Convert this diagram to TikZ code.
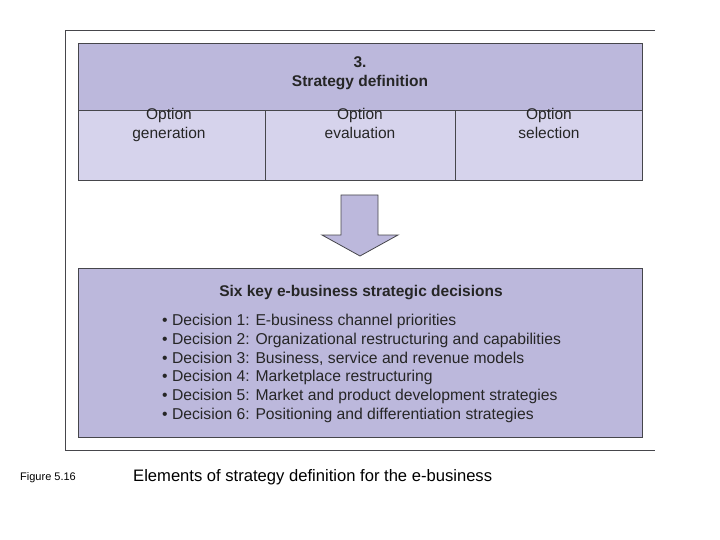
\documentclass[tikz,border=0pt]{standalone}
\usepackage{fontspec}
\setmainfont{Liberation Sans}
\definecolor{dk}{RGB}{188,184,220}
\definecolor{lt}{RGB}{214,211,236}
\definecolor{ln}{RGB}{70,70,75}
\begin{document}
\begin{tikzpicture}[x=1pt,y=-1pt,
  box/.style={draw=ln,line width=0.8pt},
  txt/.style={font=\fontsize{15.5}{19}\selectfont,align=center,text=black!85}]
\useasboundingbox (0,0) rectangle (720,540);
\draw[ln,line width=0.8pt] (655,30) -- (65,30) -- (65,450) -- (655,450);
\path[box,fill=dk] (78,43) rectangle (642,110);
\node[txt,font=\bfseries\fontsize{15.5}{19}\selectfont] (title) at (360,73) {3.\\Strategy definition};
\path[box,fill=lt] (78,110) rectangle (265,180);
\path[box,fill=lt] (265,110) rectangle (455,180);
\path[box,fill=lt] (455,110) rectangle (642,180);
\node[txt,anchor=base] (o1) at (169,139) {Option\\generation};
\node[txt,anchor=base] (o2) at (360,139) {Option\\evaluation};
\node[txt,anchor=base] (o3) at (549,139) {Option\\selection};
\draw[box,fill=dk] (341,195) -- (378,195) -- (378,235) -- (398,235) -- (360,256) -- (322,235) -- (341,235) -- cycle;
\path[box,fill=dk] (78,268) rectangle (642,437);
\node[txt,font=\bfseries\fontsize{15.5}{19}\selectfont] (h) at (361,293) {Six key e-business strategic decisions};
\node[anchor=north west,inner sep=0,align=left,font=\fontsize{15.7}{18.8}\selectfont,text=black!85] (list) at (162,314) {%
• Decision 1: E-business channel priorities\\
• Decision 2: Organizational restructuring and capabilities\\
• Decision 3: Business, service and revenue models\\
• Decision 4: Marketplace restructuring\\
• Decision 5: Market and product development strategies\\
• Decision 6: Positioning and differentiation strategies};
\node[anchor=base west,inner sep=0,font=\fontsize{11}{13}\selectfont] (fig) at (20,480) {Figure 5.16};
\node[anchor=base west,inner sep=0,font=\fontsize{16.6}{20}\selectfont] (cap) at (133,481) {Elements of strategy definition for the e-business};
\end{tikzpicture}
\end{document}
